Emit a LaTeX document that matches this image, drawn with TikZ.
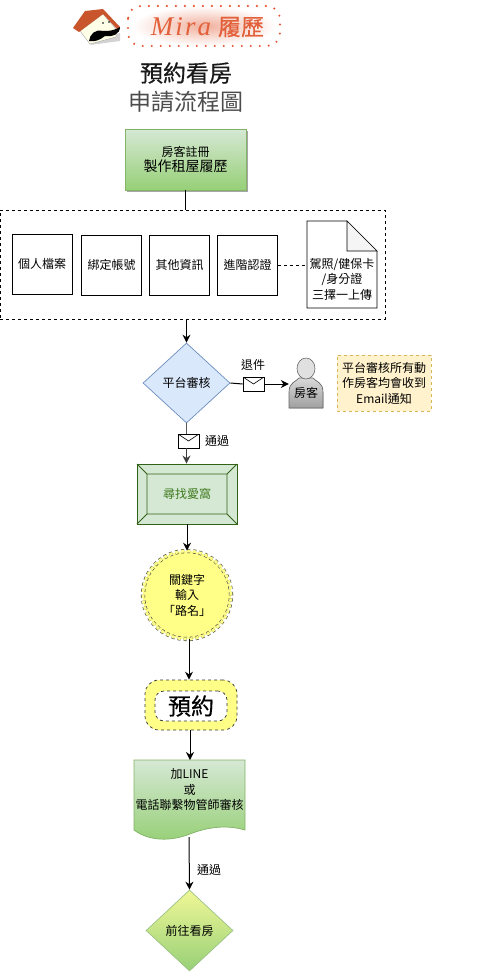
\documentclass[tikz,border=0pt]{standalone}
\usepackage{fontspec}
\setmainfont{Noto Sans CJK TC}
\newfontfamily\headface[FakeBold=0.5]{Noto Sans CJK TC}
\newfontfamily\miraface[LetterSpace=8]{Liberation Serif}
\usepackage{xcolor}
\usetikzlibrary{arrows.meta,positioning,calc,shapes.misc,shapes.geometric}
\definecolor{miraGreen}{HTML}{97D077}
\definecolor{miraPale}{HTML}{D5E8D4}
\definecolor{miraEdge}{HTML}{82B366}
\definecolor{miraBlue}{HTML}{DAE8FC}
\definecolor{miraSteel}{HTML}{6C8EBF}
\definecolor{miraForest}{HTML}{3F7A1E}
\definecolor{miraYellow}{HTML}{FFFF88}
\definecolor{miraNote}{HTML}{FFF2CC}
\definecolor{miraGold}{HTML}{D6B656}
\definecolor{miraOrange}{HTML}{E2603A}
\definecolor{miraRoof}{HTML}{C8552B}

\begin{document}
\begin{tikzpicture}[x=1pt,y=-1pt,font=\fontsize{12}{15.5}\selectfont,
  flow/.style={-{Stealth[length=8pt,width=8pt]}, line width=1pt},
  plain/.style={draw, minimum width=60pt, minimum height=60pt, inner sep=0pt, line width=0.7pt},
  gradbox/.style={draw=miraEdge, top color=miraPale, bottom color=miraGreen, align=center, inner sep=0pt},
  mailbox/.style={draw, fill=white, minimum width=21pt, minimum height=14pt, inner sep=0pt, line width=0.7pt,
    path picture={\draw[line width=0.6pt] (path picture bounding box.north west) -- (path picture bounding box.center) -- (path picture bounding box.north east);}},
  lbl/.style={align=center, inner sep=0pt}]
\useasboundingbox (0,0) rectangle (503,980);
% logo
\node[rounded rectangle, inner color=miraOrange!50, outer color=white, minimum width=150pt, minimum height=40pt] (glow) at (204,26) {};
\draw[miraOrange!90!red, line width=2.3pt, line cap=round, dash pattern=on 0pt off 9pt, rounded corners=13pt] (128,6) rectangle (280,46);
\node[lbl, text=miraOrange, font=\fontsize{27}{27}\miraface\itshape] (brand) at (181,27) {Mira};
\node[lbl, text=miraOrange, font=\fontsize{23}{23}\headface] (brandcn) at (241,27) {履歷};
\fill[gray!35] (90,45) -- (120,41) -- (120,33) -- (100,38) -- cycle;
\fill[yellow!10, draw=gray!70] (80,31) -- (103,14) -- (116,29) -- (116,37) -- (90,44) -- cycle;
\fill[miraRoof] (73,28) -- (85,11) -- (103,9) -- (120,27) -- (117,29) -- (103,14) -- (79,32) -- cycle;
\fill[black] (89,41) .. controls (90,34) and (95,29) .. (103,31) .. controls (109,31) and (113,31) .. (120,27) .. controls (120,34) and (113,37) .. (105,36) .. controls (100,40) and (95,42) .. (89,41) -- cycle;
\fill[black] (103,23) circle (0.9pt) (109,22) circle (0.9pt);
% title
\node[lbl, font=\fontsize{23}{23}\headface, text=black!90] (ttl) at (186,73) {預約看房};
\node[lbl, font=\fontsize{23}{23}\selectfont, text=black!70] (sub) at (186,102) {申請流程圖};
% register
\node[fill=black!35, minimum width=121pt, minimum height=61pt, inner sep=0pt] (regshade) at (187.5,161.5) {};
\node[gradbox, minimum width=121pt, minimum height=61pt] (reg) at (185.5,159.5) {房客註冊\\{\fontsize{14}{15.5}\selectfont 製作租屋履歷}};
% profile group
\node[draw, dashed, minimum width=385pt, minimum height=109pt, inner sep=0pt, line width=0.7pt] (grp) at (192.5,264.5) {};
\node[plain] (prof) at (42,264) {個人檔案};
\node[plain] (bind) at (111.5,265) {綁定帳號};
\node[plain] (info) at (179.5,265) {其他資訊};
\node[plain] (adv) at (247.5,265) {進階認證};
\draw[fill=white, line width=0.7pt] (307,221) -- (347,221) -- (377,251) -- (377,308) -- (307,308) -- cycle;
\draw[fill=black!4, line width=0.7pt] (347,221) -- (347,251) -- (377,251) -- cycle;
\node[lbl, minimum width=70pt] (cert) at (342,279) {駕照/健保卡\\/身分證\\三擇一上傳};
\draw[dashed, line width=0.7pt] (adv.east) -- (cert.west |- adv.east);
\draw[line width=1pt] (reg.south) -- (grp.north -| reg.south);
% audit
\node[draw=miraSteel, fill=miraBlue, diamond, aspect=1.08, minimum width=87pt, minimum height=80pt, inner sep=0pt, line width=0.7pt] (audit) at (186.5,383) {平台審核};
\draw[flow] (grp.south -| audit.north) -- (audit.north);
\node[mailbox] (mailA) at (253.5,384) {};
\node[lbl] (back) at (253,365) {退件};
\fill[bottom color=gray!75, top color=gray!30, draw=black!60, line width=0.6pt] (289,408) -- (289,392) .. controls (289,382) and (296,382) .. (299,378) -- (313,378) .. controls (316,382) and (323,382) .. (323,392) -- (323,408) -- cycle;
\draw[fill=black!12, draw=black!60, line width=0.6pt] (306,368.5) ellipse (9pt and 10.5pt);
\node[lbl, minimum width=34pt, minimum height=30pt] (guest) at (306,393) {房客};
\node[draw=miraGold, fill=miraNote, dashed, minimum width=94pt, minimum height=56pt, align=center, inner sep=0pt] (note) at (384,383) {平台審核所有動\\作房客均會收到\\Email通知};
\draw[line width=1pt] (audit.east) -- (mailA.west);
\draw[flow] (mailA.east) -- (guest.west |- mailA.east);
% find
\node[mailbox] (mailB) at (188.5,441) {};
\node[lbl] (pass) at (217,441) {通過};
\node[draw=miraForest!80!black, fill=miraPale, minimum width=100pt, minimum height=60pt, inner sep=0pt, line width=0.9pt, text=miraForest] (find) at (187,494) {尋找愛窩};
\draw[miraForest!80!black, line width=0.9pt] (147,474) rectangle (227,514)
  (137,464) -- (147,474) (237,464) -- (227,474) (137,524) -- (147,514) (237,524) -- (227,514);
\draw[black!65, line width=1.2pt] (audit.south) -- (mailB.north -| audit.south);
\draw[flow, black!75, line width=1.2pt] (mailB.south -| audit.south) -- (find.north -| audit.south);
% keyword
\node[draw=black!75, fill=miraYellow, dashed, double=miraYellow, double distance=3pt, circle, minimum size=88pt, inner sep=0pt, align=center, line width=0.6pt] (kw) at (187,595) {關鍵字\\輸入\\「路名」};
\draw[flow] (find.south) -- (kw.north);
% book
\node[draw=black!80, fill=miraYellow, dashed, rounded corners=14pt, minimum width=92pt, minimum height=50pt, line width=0.7pt] (bookout) at (191,705) {};
\node[draw=black!80, fill=white, dashed, rounded corners=9pt, minimum width=72pt, minimum height=30pt, inner sep=0pt, line width=0.7pt, font=\fontsize{23}{23}\headface] (book) at (191,706) {預約};
\draw[flow] ([xshift=2pt]kw.south) -- ([xshift=-2pt]bookout.north);
% contact
\draw[draw=miraEdge, top color=miraPale, bottom color=miraGreen, line width=0.7pt] (134,760) -- (245,760) -- (245,830) .. controls (225,824) and (205,828) .. (190,834) .. controls (172,841) and (150,842) .. (134,830) -- cycle;
\node[lbl, minimum width=111pt] (call) at (189.5,790) {加LINE\\或\\電話聯繫物管師審核};
\coordinate (callin) at (190,760);
\coordinate (callout) at (189,837);
\draw[flow] ([xshift=-1pt]bookout.south) -- (callin);
% visit
\node[draw=miraEdge!80, top color=miraPale!50!yellow!70, bottom color=miraGreen, diamond, aspect=1.08, minimum width=87pt, minimum height=81pt, inner sep=0pt, line width=0.7pt] (visit) at (189.5,930.5) {前往看房};
\node[lbl] (ok) at (209,870) {通過};
\draw[flow] (callout) -- (visit.north);
\end{tikzpicture}
\end{document}
